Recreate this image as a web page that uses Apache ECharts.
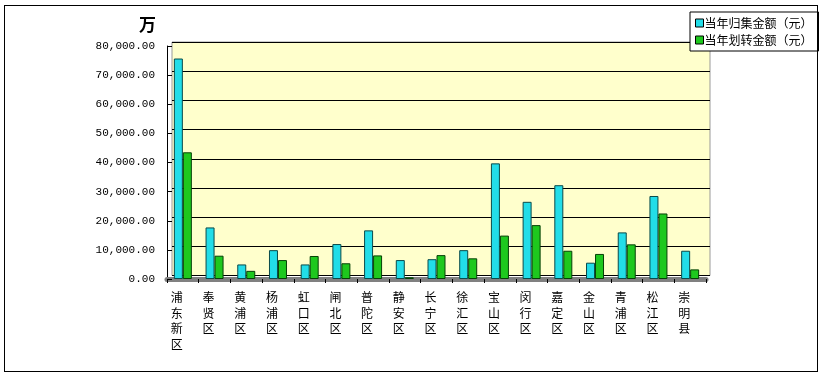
<!DOCTYPE html>
<html>
<head>
<meta charset="utf-8">
<script src="https://cdn.jsdelivr.net/npm/echarts@6/dist/echarts.min.js"></script>
<style>
html,body{margin:0;padding:0;background:#fff;}
#c{position:absolute;left:0;top:0;width:826px;height:388px;}
#frame{position:absolute;left:4px;top:5px;width:812px;height:365px;border:1px solid #000;pointer-events:none;}
</style>
</head>
<body>
<div id="c"></div>
<div id="frame"></div>
<script>
var categories = ["浦东新区","奉贤区","黄浦区","杨浦区","虹口区","闸北区","普陀区","静安区","长宁区","徐汇区","宝山区","闵行区","嘉定区","金山区","青浦区","松江区","崇明县"];
var seriesNames = ["当年归集金额（元）","当年划转金额（元）"];
var collected = [75700, 17700, 5000, 9900, 5000, 12000, 16700, 6500, 6800, 9900, 39700, 26500, 32200, 5600, 16000, 28500, 9700];
var transferred = [43500, 8000, 2800, 6500, 7900, 5400, 8100, 600, 8200, 7100, 14900, 18500, 9700, 8600, 11900, 22500, 3300];
var yMin = 0, yMax = 80000, yStep = 10000;
var unitLabel = "万";

var chart = echarts.init(document.getElementById('c'), null, {renderer: 'canvas'});
function fmt(v){ return v.toLocaleString('en-US', {minimumFractionDigits: 2, maximumFractionDigits: 2}); }
var option = {
  animation: false,
  backgroundColor: '#fff',
  title: {
    text: unitLabel, left: 134, top: 11,
    textStyle: {fontSize: 17, fontWeight: 'bold', color: '#000', fontFamily: 'Noto Sans CJK SC'}
  },
  legend: {
    orient: 'vertical', left: 690, top: 12,
    itemWidth: 8, itemHeight: 8, itemGap: 5,
    padding: [5, 6, 5, 5],
    backgroundColor: '#fff', borderColor: '#000', borderWidth: 1, borderRadius: 0,
    icon: 'rect',
    itemStyle: {borderColor: '#000', borderWidth: 1},
    textStyle: {fontSize: 12, color: '#000', fontFamily: 'Noto Sans CJK SC', padding: [0, 0, 0, -4]},
    data: seriesNames
  },
  grid: [
    {left: 172, top: 42, width: 538, height: 233.5, show: true, backgroundColor: '#ffffcc', borderColor: '#999', borderWidth: 1, containLabel: false},
    {left: 167, top: 46, width: 539, height: 233, show: false, containLabel: false}
  ],
  xAxis: [
    {gridIndex: 0, type: 'category', data: categories, show: false},
    {gridIndex: 1, type: 'category', data: categories, boundaryGap: true,
     axisLine: {show: true, lineStyle: {color: '#808080', width: 5}},
     axisTick: {show: true, length: 4, lineStyle: {color: '#000', width: 1}},
     axisLabel: {interval: 0, color: '#000', fontSize: 12, fontFamily: 'Noto Sans CJK SC', lineHeight: 15.5, margin: 11,
       padding: [0, 12, 0, 0], verticalAlign: 'top',
       formatter: function(v){ return v.split('').join('\n'); }}
    }
  ],
  yAxis: [
    {gridIndex: 0, type: 'value', min: yMin, max: yMax, interval: yStep,
     axisLine: {show: false}, axisTick: {show: false}, axisLabel: {show: false},
     splitLine: {show: true, lineStyle: {color: '#000', width: 1}}},
    {gridIndex: 1, type: 'value', min: yMin, max: yMax, interval: yStep,
     axisLine: {show: true, lineStyle: {color: '#000', width: 1}},
     axisTick: {show: true, inside: true, length: 5, lineStyle: {color: '#000'}},
     splitLine: {show: false},
     axisLabel: {color: '#000', fontSize: 11, fontFamily: 'Liberation Mono', margin: 12, padding: [5, 0, 0, 0], formatter: fmt}}
  ],
  series: [
    {name: seriesNames[0], type: 'bar', xAxisIndex: 1, yAxisIndex: 1, data: collected,
     barWidth: 9, barGap: '0%',
     itemStyle: {color: '#22dde8', borderColor: '#0a4a4a', borderWidth: 1}},
    {name: seriesNames[1], type: 'bar', xAxisIndex: 1, yAxisIndex: 1, data: transferred,
     barWidth: 9, barGap: '0%',
     itemStyle: {color: '#1ec81e', borderColor: '#064006', borderWidth: 1}}
  ]
};
chart.setOption(option);
</script>
</body>
</html>
